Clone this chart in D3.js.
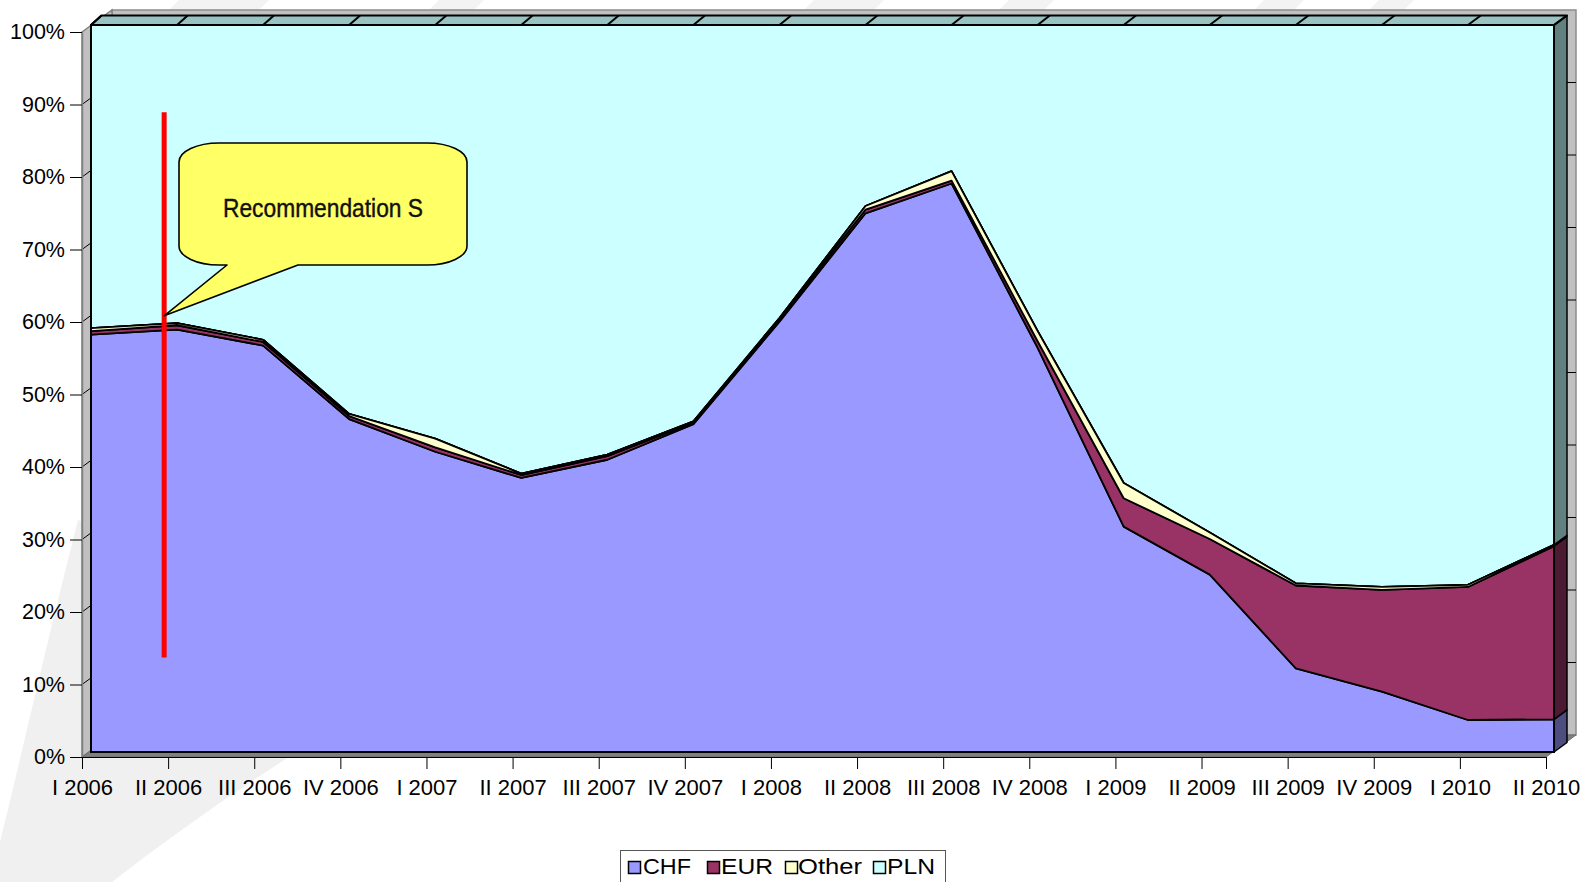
<!DOCTYPE html>
<html>
<head>
<meta charset="utf-8">
<script src="https://cdn.jsdelivr.net/npm/d3@7"></script>
<style>
  html, body { margin: 0; padding: 0; background: #ffffff; }
  svg { display: block; }
</style>
</head>
<body>
<svg id="chart" width="1585" height="882"></svg>
<script>
// Currency structure of new housing loans, share of total (%)
const categories = ["I 2006", "II 2006", "III 2006", "IV 2006", "I 2007", "II 2007", "III 2007", "IV 2007",
  "I 2008", "II 2008", "III 2008", "IV 2008", "I 2009", "II 2009", "III 2009", "IV 2009", "I 2010", "II 2010"];
const chf   = [57.4, 58.1, 55.9, 45.8, 41.3, 37.7, 40.2, 45.1, 59.2, 74.1, 78.2, 55.6, 31.0, 24.4, 11.5, 8.3, 4.4, 4.5];
const eur   = [0.5, 0.6, 0.5, 0.4, 0.6, 0.4, 0.5, 0.2, 0.3, 0.5, 0.4, 0.9, 3.9, 4.9, 11.4, 14.0, 18.3, 23.8];
const other = [0.4, 0.3, 0.3, 0.3, 1.2, 0.2, 0.2, 0.2, 0.2, 0.5, 1.3, 1.4, 2.1, 0.9, 0.3, 0.4, 0.3, 0.2];
const pln   = categories.map((_, i) => +(100 - chf[i] - eur[i] - other[i]).toFixed(1));

const seriesNames = ["CHF", "EUR", "Other", "PLN"];
const yTicks = [0, 10, 20, 30, 40, 50, 60, 70, 80, 90, 100];

// Regulation marker: position in category units, vertical span and callout target (%)
const markerLabel = "Recommendation S";
const markerPos = 0.85;
const markerSpan = [13, 88];
const markerTarget = 60;

const colors = { CHF: "#9999ff", EUR: "#993366", Other: "#ffffcc", PLN: "#ccffff" };
const sideColors = { CHF: "#4d4d80", EUR: "#4d1a33", Other: "#808066", PLN: "#618080" };

const svg = d3.select("#chart");
const FONT = "'Liberation Sans', Arial, Helvetica, sans-serif";

// ---- scales: axis plane (front of walls) and front face of the area slab ----
const xAxisScale = d3.scalePoint().domain(categories).range([82, 1546]);
const yAxisScale = d3.scaleLinear().domain([0, 100]).range([757, 32]);
const xFront = d3.scalePoint().domain(categories).range([91, 1554]);
const yFront = d3.scaleLinear().domain([0, 100]).range([752, 25]);
const xIndex = d3.scaleLinear().domain([0, categories.length - 1]).range([91, 1554]);

// depth of the slab (slightly wider to the right) and of the walls
const slabDepthX = x => 10.5 + 2.5 * (x - 91) / (1554 - 91);
const slabDepthY = -9.5;
const wallDX = 30, wallDY = -22;

// ---- background swooshes ----
const bg = svg.append("g");
bg.append("rect").attr("width", 1585).attr("height", 882).attr("fill", "#ffffff");
bg.append("path")
  .attr("d", "M0,882 L0,842 C18,770 45,650 78,520 L480,640 C360,710 230,790 112,882 Z")
  .attr("fill", "#f0f0f0");
[[165, 255], [425, 470], [800, 870], [995, 1040], [1250, 1290], [1365, 1400]].forEach(([a, b]) => {
  bg.append("path")
    .attr("d", `M${a},14 L${a + 14},0 L${b + 14},0 L${b},14 Z`)
    .attr("fill", "#f3f3f3");
});

// ---- walls and floor ----
const walls = svg.append("g");
const ax0 = xAxisScale.range()[0], ax1 = xAxisScale.range()[1];
const ay0 = yAxisScale(0), ay1 = yAxisScale(100);
walls.append("rect")
  .attr("x", ax0 + wallDX).attr("y", ay1 + wallDY)
  .attr("width", ax1 - ax0).attr("height", ay0 - ay1)
  .attr("fill", "#c0c0c0").attr("stroke", "#8c8c8c").attr("stroke-width", 1.5);
walls.append("polygon")
  .attr("points", [[ax0, ay1], [ax0 + wallDX, ay1 + wallDY], [ax0 + wallDX, ay0 + wallDY], [ax0, ay0]].join(" "))
  .attr("fill", "#c0c0c0").attr("stroke", "#808080").attr("stroke-width", 1.5);
walls.append("polygon")
  .attr("points", [[ax0, ay0], [ax1, ay0], [ax1 + wallDX, ay0 + wallDY], [ax0 + wallDX, ay0 + wallDY]].join(" "))
  .attr("fill", "#808080").attr("stroke", "#6e6e6e").attr("stroke-width", 1);

// gridlines on back wall and side wall
const grid = svg.append("g").attr("stroke", "#000").attr("stroke-width", 1);
yTicks.filter(v => v > 0 && v < 100).forEach(v => {
  const y = yAxisScale(v);
  grid.append("line").attr("x1", ax0 + wallDX).attr("x2", ax1 + wallDX)
    .attr("y1", y + wallDY).attr("y2", y + wallDY);
  grid.append("line").attr("x1", ax0).attr("y1", y)
    .attr("x2", ax0 + wallDX).attr("y2", y + wallDY);
});

// ---- stacked area slab ----
const rows = categories.map((c, i) => ({ cat: c, CHF: chf[i], EUR: eur[i], Other: other[i], PLN: pln[i] }));
const stacked = d3.stack().keys(seriesNames)(rows);

const slab = svg.append("g");
const lastCat = categories[categories.length - 1];
const xr = xFront(lastCat), dr = slabDepthX(xr);

// right side faces
stacked.forEach(layer => {
  const d = layer[layer.length - 1];
  const y0 = yFront(d[0]), y1 = yFront(d[1]);
  slab.append("polygon")
    .attr("points", [[xr, y0], [xr, y1], [xr + dr, y1 + slabDepthY], [xr + dr, y0 + slabDepthY]].join(" "))
    .attr("fill", sideColors[layer.key]).attr("stroke", "#000").attr("stroke-width", 1.5)
    .attr("stroke-linejoin", "round");
});

// top face of the 100% level
const xl = xFront(categories[0]), dl = slabDepthX(xl), yTop = yFront(100);
slab.append("polygon")
  .attr("points", [[xl, yTop], [xr, yTop], [xr + dr, yTop + slabDepthY], [xl + dl, yTop + slabDepthY]].join(" "))
  .attr("fill", "#99c2c2").attr("stroke", "#000").attr("stroke-width", 2).attr("stroke-linejoin", "round");
categories.forEach(c => {
  const x = xFront(c);
  slab.append("line")
    .attr("x1", x).attr("y1", yTop)
    .attr("x2", x + slabDepthX(x)).attr("y2", yTop + slabDepthY)
    .attr("stroke", "#000").attr("stroke-width", 2);
});

// front faces
const area = d3.area()
  .x(d => xFront(d.data.cat))
  .y0(d => yFront(d[0]))
  .y1(d => yFront(d[1]));
slab.selectAll("path.layer")
  .data(stacked.slice().reverse())
  .join("path")
  .attr("class", "layer")
  .attr("d", area)
  .attr("fill", d => colors[d.key])
  .attr("stroke", "#000")
  .attr("stroke-width", 1.8)
  .attr("stroke-linejoin", "round");
// redraw the lower layers on top so their outlines stay visible
slab.selectAll("path.layer2")
  .data(stacked.slice(0, 3))
  .join("path")
  .attr("class", "layer2")
  .attr("d", area)
  .attr("fill", d => colors[d.key])
  .attr("stroke", "#000")
  .attr("stroke-width", 1.8)
  .attr("stroke-linejoin", "round");
// frame of the front face
slab.append("rect")
  .attr("x", xl).attr("y", yTop).attr("width", xr - xl).attr("height", yFront(0) - yTop)
  .attr("fill", "none").attr("stroke", "#000").attr("stroke-width", 2);

// ---- axes ----
const yAxis = d3.axisLeft(yAxisScale).tickValues(yTicks).tickFormat(d => d + "%")
  .tickSize(12).tickSizeOuter(0).tickPadding(5);
const gy = svg.append("g").attr("transform", `translate(${ax0},0)`).call(yAxis);
gy.select(".domain").attr("stroke", "#808080").attr("stroke-width", 1.5);
gy.selectAll(".tick line").attr("stroke", "#000");
gy.selectAll("text").attr("font-family", FONT).attr("font-size", 21.5).attr("fill", "#000");

const xAxis = d3.axisBottom(xAxisScale).tickSize(12).tickSizeOuter(0).tickPadding(10);
const gx = svg.append("g").attr("transform", `translate(0,${ay0})`).call(xAxis);
gx.select(".domain").attr("stroke", "#000").attr("stroke-width", 1.2);
gx.selectAll(".tick line").attr("stroke", "#000");
gx.selectAll("text").attr("font-family", FONT).attr("font-size", 22).attr("fill", "#000");

// ---- regulation marker and callout ----
const mx = xIndex(markerPos);
svg.append("line")
  .attr("x1", mx).attr("x2", mx)
  .attr("y1", yFront(markerSpan[1])).attr("y2", yFront(markerSpan[0]))
  .attr("stroke", "#ff0000").attr("stroke-width", 5);

const tipX = mx, tipY = yFront(markerTarget);
const L = 179, R = 467, T = 143, B = 265, rx = 40, ry = 19;
const calloutPath = `M${L + rx},${T} H${R - rx} A${rx},${ry} 0 0 1 ${R},${T + ry} V${B - ry} ` +
  `A${rx},${ry} 0 0 1 ${R - rx},${B} H298 L${tipX},${tipY} L227,${B} H${L + rx} ` +
  `A${rx},${ry} 0 0 1 ${L},${B - ry} V${T + ry} A${rx},${ry} 0 0 1 ${L + rx},${T} Z`;
svg.append("path").attr("d", calloutPath)
  .attr("fill", "#ffff66").attr("stroke", "#000").attr("stroke-width", 1.6).attr("stroke-linejoin", "round");
svg.append("text")
  .attr("x", 323).attr("y", 217)
  .attr("text-anchor", "middle")
  .attr("font-family", "'Liberation Sans Narrow', 'Arial Narrow', " + FONT)
  .attr("font-size", 26)
  .attr("textLength", 200).attr("lengthAdjust", "spacingAndGlyphs")
  .attr("fill", "#111")
  .attr("stroke", "#111").attr("stroke-width", 0.4)
  .text(markerLabel);

// ---- legend ----
const legend = svg.append("g");
legend.append("rect")
  .attr("x", 620.5).attr("y", 850.5).attr("width", 325).attr("height", 45)
  .attr("fill", "#ffffff").attr("stroke", "#555").attr("stroke-width", 1);
const legendItems = [
  { key: "CHF", sx: 628, tx: 643, tw: 48 },
  { key: "EUR", sx: 707, tx: 721, tw: 52 },
  { key: "Other", sx: 785, tx: 798, tw: 64 },
  { key: "PLN", sx: 873, tx: 887, tw: 48 }
];
legendItems.forEach(it => {
  legend.append("rect")
    .attr("x", it.sx + 0.5).attr("y", 861.5).attr("width", 12).attr("height", 12)
    .attr("fill", colors[it.key]).attr("stroke", "#000").attr("stroke-width", 1.5);
  legend.append("text")
    .attr("x", it.tx).attr("y", 874)
    .attr("font-family", FONT).attr("font-size", 22)
    .attr("textLength", it.tw).attr("lengthAdjust", "spacingAndGlyphs")
    .attr("fill", "#000")
    .text(it.key);
});
</script>
</body>
</html>
